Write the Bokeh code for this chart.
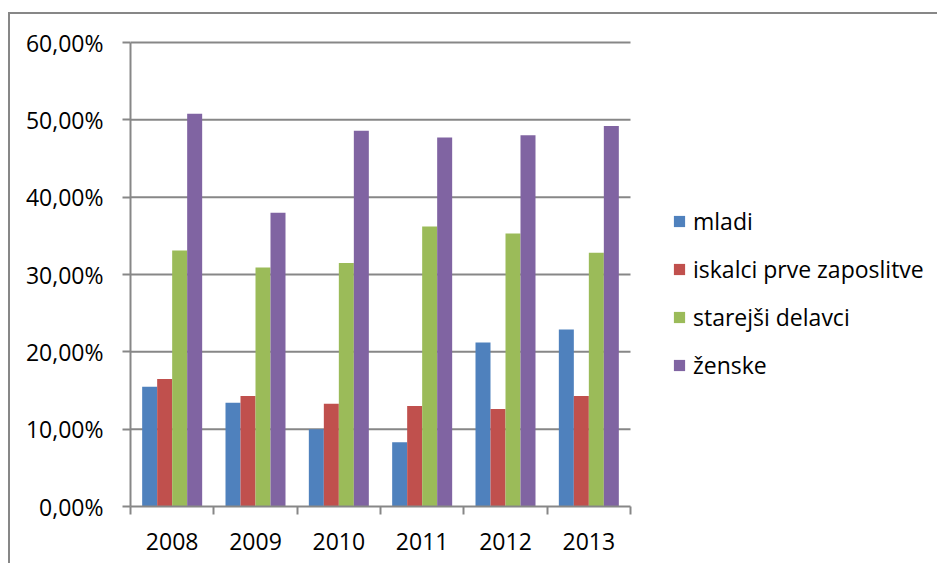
from bokeh.plotting import figure
from bokeh.models import (ColumnDataSource, Range1d, FixedTicker, Legend, LegendItem)
from bokeh.transform import dodge
from bokeh.embed import file_html
from bokeh.resources import INLINE

years = ["2008", "2009", "2010", "2011", "2012", "2013"]
mladi = [15.5, 13.4, 10.0, 8.3, 21.2, 22.9]
iskalci = [16.5, 14.3, 13.3, 13.0, 12.6, 14.3]
starejsi = [33.1, 30.9, 31.5, 36.2, 35.3, 32.8]
zenske = [50.8, 38.0, 48.6, 47.7, 48.0, 49.2]
series_names = ["mladi", "iskalci prve zaposlitve", "starejši delavci", "ženske"]
colors = ["#4F81BD", "#C0504D", "#9BBB59", "#8064A2"]
y_ticks = [0, 10, 20, 30, 40, 50, 60]
y_labels = ["0,00%", "10,00%", "20,00%", "30,00%", "40,00%", "50,00%", "60,00%"]

FONT = "Open Sans"
FS = "23px"
GRAY = "#878787"

# layout (pixels)
W, H = 929, 551
ML, MT, MB = 120, 26, 59
PLOT_W, PLOT_H = 500, 464          # area used by the category axis / value axis
frame_w = W - ML
frame_h = H - MT - MB
n = len(years)
x_end = n * frame_w / PLOT_W
y_end = y_ticks[-1] * frame_h / PLOT_H

centers = [i + 0.5 for i in range(n)]
src = ColumnDataSource(dict(x=centers, mladi=mladi, iskalci=iskalci,
                            starejsi=starejsi, zenske=zenske))

p = figure(width=W, height=H, output_backend="svg", toolbar_location=None,
           x_range=Range1d(0, x_end), y_range=Range1d(0, y_end),
           min_border_left=ML, min_border_right=0, min_border_top=MT,
           min_border_bottom=MB)
p.styles = {"border-top": f"2px solid {GRAY}", "border-left": f"2px solid {GRAY}",
            "margin-top": "12px", "margin-left": "8px"}
p.outline_line_color = None
p.background_fill_color = "white"
p.xgrid.grid_line_color = None
p.ygrid.grid_line_color = None

# horizontal gridlines, limited to the category area
grid_y = y_ticks[1:]
p.segment(x0=[0] * len(grid_y), x1=[n] * len(grid_y), y0=grid_y, y1=grid_y,
          line_color=GRAY, line_width=2)

cols = ["mladi", "iskalci", "starejsi", "zenske"]
offsets = [-0.27, -0.09, 0.09, 0.27]
proxies = []
for c, off, col in zip(cols, offsets, colors):
    p.vbar(x=dodge("x", off, range=p.x_range), top=c, width=0.18, source=src,
           fill_color=col, line_color=None)
    # hidden area glyph that only supplies a full square legend swatch
    proxies.append(p.quad(left="x", right="x", top=c, bottom=0, source=src,
                          fill_color=col, line_color=None, visible=False))

# y axis
p.yaxis.ticker = FixedTicker(ticks=y_ticks)
p.yaxis.bounds = (y_ticks[0], y_ticks[-1])
p.yaxis.major_label_overrides = {t: l for t, l in zip(y_ticks, y_labels)}
p.yaxis.axis_line_color = GRAY
p.yaxis.axis_line_width = 2
p.yaxis.major_tick_line_color = GRAY
p.yaxis.major_tick_line_width = 2
p.yaxis.major_tick_out = 8
p.yaxis.major_tick_in = 0
p.yaxis.minor_tick_line_color = None
p.yaxis.major_label_standoff = 19
p.yaxis.major_label_text_font = FONT
p.yaxis.major_label_text_font_size = FS
p.yaxis.major_label_text_color = "black"

# x axis
p.xaxis.ticker = FixedTicker(ticks=centers, minor_ticks=list(range(n + 1)))
p.xaxis.bounds = (0, n)
p.xaxis.major_label_overrides = {c: y for c, y in zip(centers, years)}
p.xaxis.axis_line_color = GRAY
p.xaxis.axis_line_width = 2
p.xaxis.major_tick_line_color = None
p.xaxis.minor_tick_line_color = GRAY
p.xaxis.minor_tick_line_width = 2
p.xaxis.minor_tick_out = 8
p.xaxis.minor_tick_in = 0
p.xaxis.major_label_standoff = 18
p.xaxis.major_label_text_font = FONT
p.xaxis.major_label_text_font_size = FS
p.xaxis.major_label_text_color = "black"

legend = Legend(items=[LegendItem(label=nm, renderers=[r]) for nm, r in zip(series_names, proxies)],
                location=(542, 125), padding=0, margin=0, border_line_color=None,
                background_fill_alpha=0, glyph_width=14, glyph_height=14,
                label_standoff=7, spacing=16, label_text_font=FONT,
                label_text_font_size=FS, label_text_color="black",
                inactive_fill_alpha=0, click_policy="none")
p.add_layout(legend)

open("out.html", "w").write(file_html(p, INLINE))
